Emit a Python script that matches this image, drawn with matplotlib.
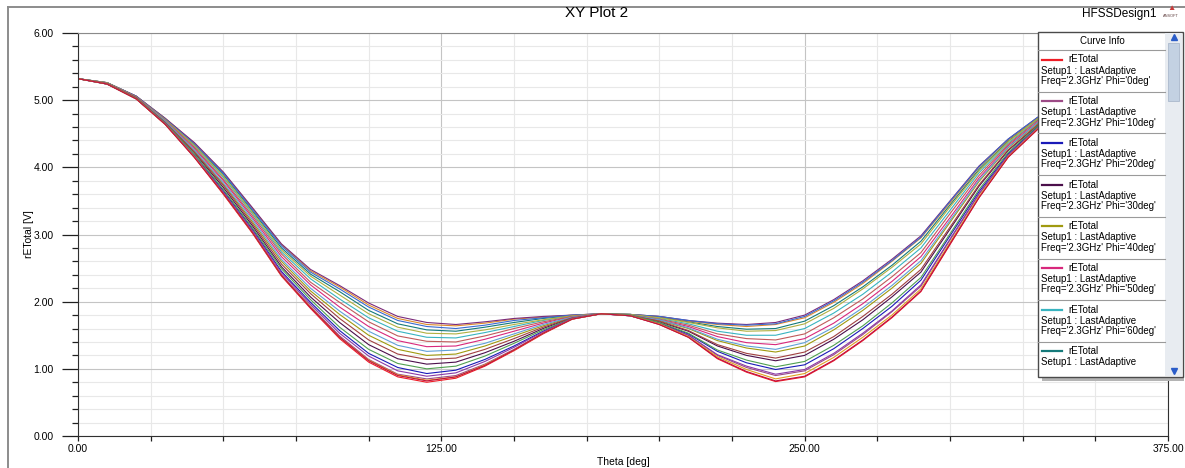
import numpy as np
import matplotlib
matplotlib.use("Agg")
import matplotlib.pyplot as plt
from matplotlib.patches import Rectangle

plt.rcParams['font.family'] = ['Liberation Sans', 'DejaVu Sans']

# theta sweep [deg] and one rETotal curve per phi cut
theta = list(range(0, 361, 10))
phi_deg = [0, 10, 20, 30, 40, 50, 60, 70, 80, 90, 100, 110, 120, 130, 140, 150, 160, 170, 180]

e_phi0 = [5.32, 5.24, 5.02, 4.64, 4.15, 3.60, 3.02, 2.38, 1.90, 1.45, 1.10, 0.88, 0.80, 0.86, 1.04, 1.27, 1.52, 1.74, 1.82,
          1.79, 1.66, 1.47, 1.15, 0.95, 0.81, 0.88, 1.12, 1.42, 1.76, 2.15, 2.85, 3.55, 4.15, 4.56, 4.95, 5.18, 5.32]
e_phi10 = [5.32, 5.24, 5.02, 4.64, 4.16, 3.62, 3.04, 2.40, 1.93, 1.49, 1.14, 0.92, 0.85, 0.90, 1.07, 1.29, 1.53, 1.74, 1.82,
           1.79, 1.67, 1.50, 1.20, 1.02, 0.90, 0.97, 1.21, 1.51, 1.85, 2.23, 2.92, 3.60, 4.18, 4.58, 4.96, 5.18, 5.32]
e_phi20 = [5.32, 5.24, 5.03, 4.65, 4.18, 3.65, 3.08, 2.45, 1.99, 1.57, 1.23, 1.02, 0.93, 0.98, 1.14, 1.34, 1.56, 1.75, 1.82,
           1.79, 1.68, 1.52, 1.26, 1.09, 0.99, 1.06, 1.30, 1.60, 1.93, 2.32, 2.98, 3.64, 4.20, 4.60, 4.96, 5.18, 5.32]
e_phi30 = [5.32, 5.25, 5.03, 4.67, 4.22, 3.70, 3.13, 2.52, 2.07, 1.69, 1.36, 1.15, 1.07, 1.10, 1.24, 1.41, 1.60, 1.76, 1.82,
           1.80, 1.70, 1.56, 1.34, 1.20, 1.12, 1.20, 1.44, 1.73, 2.07, 2.44, 3.08, 3.72, 4.25, 4.62, 4.97, 5.19, 5.32]
e_phi40 = [5.32, 5.25, 5.04, 4.68, 4.25, 3.75, 3.19, 2.60, 2.16, 1.81, 1.50, 1.29, 1.20, 1.22, 1.34, 1.49, 1.64, 1.77, 1.82,
           1.80, 1.72, 1.60, 1.42, 1.31, 1.25, 1.34, 1.58, 1.87, 2.20, 2.57, 3.18, 3.79, 4.29, 4.65, 4.98, 5.19, 5.32]
e_phi50 = [5.32, 5.25, 5.04, 4.69, 4.28, 3.80, 3.25, 2.67, 2.25, 1.92, 1.63, 1.42, 1.33, 1.34, 1.44, 1.56, 1.68, 1.78, 1.82,
           1.80, 1.73, 1.63, 1.48, 1.39, 1.36, 1.45, 1.68, 1.97, 2.30, 2.67, 3.25, 3.84, 4.32, 4.67, 4.98, 5.19, 5.32]
e_phi60 = [5.32, 5.26, 5.05, 4.71, 4.32, 3.85, 3.31, 2.74, 2.34, 2.04, 1.76, 1.56, 1.47, 1.46, 1.54, 1.63, 1.72, 1.79, 1.82,
           1.81, 1.75, 1.67, 1.56, 1.50, 1.50, 1.60, 1.83, 2.11, 2.44, 2.80, 3.36, 3.92, 4.36, 4.70, 4.99, 5.20, 5.32]
e_phi70 = [5.32, 5.26, 5.06, 4.72, 4.34, 3.89, 3.35, 2.80, 2.41, 2.15, 1.87, 1.67, 1.58, 1.56, 1.62, 1.69, 1.75, 1.79, 1.82,
           1.81, 1.77, 1.70, 1.63, 1.59, 1.60, 1.71, 1.94, 2.22, 2.54, 2.90, 3.44, 3.97, 4.39, 4.72, 5.00, 5.20, 5.32]
e_phi80 = [5.32, 5.26, 5.06, 4.73, 4.36, 3.92, 3.39, 2.85, 2.46, 2.22, 1.95, 1.75, 1.66, 1.64, 1.68, 1.74, 1.77, 1.80, 1.82,
           1.81, 1.78, 1.71, 1.66, 1.63, 1.66, 1.76, 1.99, 2.27, 2.60, 2.95, 3.47, 4.00, 4.41, 4.73, 5.00, 5.20, 5.32]
e_phi90 = [5.32, 5.26, 5.06, 4.73, 4.37, 3.93, 3.40, 2.86, 2.48, 2.24, 1.98, 1.78, 1.69, 1.66, 1.70, 1.75, 1.78, 1.80, 1.82,
           1.81, 1.78, 1.72, 1.68, 1.66, 1.69, 1.80, 2.03, 2.31, 2.63, 2.98, 3.50, 4.02, 4.42, 4.74, 5.00, 5.20, 5.32]
e_phi100 = [5.32, 5.26, 5.06, 4.72, 4.35, 3.91, 3.37, 2.83, 2.44, 2.19, 1.92, 1.72, 1.63, 1.60, 1.65, 1.72, 1.76, 1.80, 1.82,
            1.81, 1.78, 1.72, 1.67, 1.65, 1.67, 1.78, 2.01, 2.29, 2.61, 2.96, 3.49, 4.01, 4.42, 4.74, 5.00, 5.20, 5.32]
e_phi110 = [5.32, 5.26, 5.05, 4.71, 4.33, 3.87, 3.33, 2.77, 2.38, 2.10, 1.82, 1.62, 1.53, 1.52, 1.58, 1.66, 1.73, 1.79, 1.82,
            1.81, 1.76, 1.69, 1.61, 1.56, 1.57, 1.67, 1.90, 2.19, 2.51, 2.86, 3.41, 3.95, 4.38, 4.72, 4.99, 5.20, 5.32]
e_phi120 = [5.32, 5.25, 5.05, 4.70, 4.30, 3.82, 3.28, 2.71, 2.29, 1.99, 1.70, 1.49, 1.41, 1.40, 1.49, 1.60, 1.70, 1.78, 1.82,
            1.80, 1.74, 1.65, 1.52, 1.45, 1.43, 1.52, 1.76, 2.04, 2.37, 2.73, 3.31, 3.88, 4.34, 4.69, 4.99, 5.19, 5.32]
e_phi130 = [5.32, 5.25, 5.04, 4.69, 4.26, 3.77, 3.22, 2.63, 2.20, 1.86, 1.56, 1.35, 1.26, 1.28, 1.38, 1.52, 1.66, 1.77, 1.82,
            1.80, 1.73, 1.61, 1.44, 1.34, 1.29, 1.39, 1.62, 1.91, 2.24, 2.61, 3.21, 3.81, 4.30, 4.66, 4.98, 5.19, 5.32]
e_phi140 = [5.32, 5.25, 5.04, 4.67, 4.23, 3.73, 3.16, 2.56, 2.12, 1.75, 1.43, 1.22, 1.14, 1.16, 1.29, 1.45, 1.62, 1.76, 1.82,
            1.80, 1.71, 1.57, 1.36, 1.23, 1.16, 1.25, 1.48, 1.78, 2.11, 2.48, 3.11, 3.74, 4.26, 4.63, 4.97, 5.19, 5.32]
e_phi150 = [5.32, 5.24, 5.03, 4.66, 4.20, 3.67, 3.10, 2.49, 2.03, 1.62, 1.29, 1.08, 1.00, 1.04, 1.19, 1.38, 1.58, 1.75, 1.82,
            1.80, 1.69, 1.53, 1.28, 1.13, 1.03, 1.11, 1.35, 1.64, 1.98, 2.36, 3.01, 3.67, 4.22, 4.61, 4.96, 5.19, 5.32]
e_phi160 = [5.32, 5.24, 5.02, 4.65, 4.17, 3.63, 3.06, 2.43, 1.96, 1.53, 1.19, 0.97, 0.89, 0.94, 1.11, 1.32, 1.55, 1.75, 1.82,
            1.79, 1.67, 1.50, 1.21, 1.04, 0.92, 0.99, 1.23, 1.53, 1.86, 2.25, 2.93, 3.61, 4.18, 4.58, 4.96, 5.18, 5.32]
e_phi170 = [5.32, 5.24, 5.02, 4.64, 4.16, 3.61, 3.03, 2.39, 1.92, 1.47, 1.13, 0.91, 0.83, 0.88, 1.06, 1.28, 1.53, 1.74, 1.82,
            1.79, 1.67, 1.48, 1.18, 0.99, 0.85, 0.93, 1.17, 1.47, 1.80, 2.19, 2.88, 3.57, 4.16, 4.57, 4.95, 5.18, 5.32]
e_phi180 = [5.32, 5.24, 5.02, 4.64, 4.15, 3.61, 3.03, 2.39, 1.91, 1.47, 1.12, 0.90, 0.82, 0.88, 1.05, 1.28, 1.53, 1.74, 1.82,
            1.79, 1.66, 1.47, 1.16, 0.96, 0.82, 0.89, 1.13, 1.43, 1.77, 2.16, 2.86, 3.55, 4.15, 4.56, 4.95, 5.18, 5.32]

curves = [e_phi0, e_phi10, e_phi20, e_phi30, e_phi40, e_phi50, e_phi60, e_phi70, e_phi80, e_phi90,
          e_phi100, e_phi110, e_phi120, e_phi130, e_phi140, e_phi150, e_phi160, e_phi170, e_phi180]

colors = ['#ee1c25', '#9c4a86', '#1a1ab8', '#4b0f4b', '#a09a10', '#d8287c', '#38b4c0', '#157a7a',
          '#e08a2a', '#7a2a7a', '#3a6ad0', '#b0b040', '#c05a5a', '#60a0d8', '#a04040', '#50a050',
          '#8a3aa8', '#e0a020', '#c01040']

x_ticks = [0, 125, 250, 375]
y_ticks = [0, 1, 2, 3, 4, 5, 6]

W, H = 1185, 468
fig = plt.figure(figsize=(W / 100, H / 100), dpi=100)
fig.patch.set_facecolor('white')

ax = fig.add_axes([78 / W, 1 - 436 / H, (1168 - 78) / W, (436 - 33) / H])
for vals, col in zip(curves, colors):
    ax.plot(theta, vals, color=col, lw=0.8)

ax.set_xlim(0, 375)
ax.set_ylim(0, 6)
ax.set_xticks(x_ticks)
ax.set_xticks(np.arange(0, 376, 25), minor=True)
ax.set_yticks(y_ticks)
ax.set_yticks(np.arange(0, 6.01, 0.2), minor=True)
ax.set_xticklabels([f"{v:.2f}" for v in x_ticks], fontsize=7.5)
ax.set_yticklabels([f"{v:.2f}" for v in y_ticks], fontsize=7.5)
ax.grid(which='major', color='#c4c4c4', lw=0.8)
ax.grid(which='minor', color='#e8e8e8', lw=0.8)
ax.set_axisbelow(True)
ax.tick_params(axis='y', which='major', direction='out', length=11.5, width=0.9, pad=6, color='#202020')
ax.tick_params(axis='y', which='minor', direction='out', length=4.5, width=0.9, color='#202020')
ax.tick_params(axis='x', which='both', direction='out', length=3.5, width=0.9, pad=2, color='#202020')
for side in ['left', 'bottom', 'right']:
    ax.spines[side].set_color('#303030')
ax.spines['top'].set_color('#8a8a8a')

ax.set_xlabel('Theta [deg]', fontsize=7.5)
ax.set_ylabel('rETotal [V]', fontsize=7.5)
ax.xaxis.set_label_coords(0.5, -0.052)
ax.yaxis.set_label_coords(-0.04, 0.5)

# overlay in pixel coordinates for frame, title and the curve-info box
ov = fig.add_axes([0, 0, 1, 1], facecolor='none')
ov.set_xlim(0, W)
ov.set_ylim(H, 0)
ov.axis('off')

ov.plot([8, 8], [7, H], color='#8c8c8c', lw=1.4)
ov.plot([8, W], [7, 7], color='#8c8c8c', lw=1.4)
ov.text(597, 13, 'XY Plot 2', ha='center', va='center', fontsize=11)
ov.text(1082, 14, 'HFSSDesign1', ha='left', va='center', fontsize=8.5)
ov.text(1171, 9, '\u25b2', ha='center', va='center', fontsize=6, color='#c83a3a')
ov.text(1171, 16, 'ANSOFT', ha='center', va='center', fontsize=2.8, color='#604040')

# curve info box
ov.add_patch(Rectangle((1042, 36), 142, 345, fc='#b4b4b4', ec='none', zorder=2))
ov.add_patch(Rectangle((1038, 32), 145, 345, fc='white', ec='#4a4a4a', lw=1, zorder=3))
ov.add_patch(Rectangle((1165, 33), 17, 343, fc='#e8ecf1', ec='none', zorder=4))
ov.add_patch(Rectangle((1168, 43), 11, 58, fc='#c3d1e2', ec='#aab8cc', lw=0.6, zorder=5))
ov.plot([1173.5], [37], marker='^', ms=4, color='#2a5cc8', zorder=6)
ov.plot([1173.5], [371], marker='v', ms=4, color='#2a5cc8', zorder=6)
ov.text(1102, 41, 'Curve Info', ha='center', va='center', fontsize=7, zorder=6)
ov.plot([1038, 1165], [50, 50], color='#9a9a9a', lw=0.8, zorder=6)

step = 41.7
for k, (phi, col) in enumerate(zip(phi_deg[:8], colors[:8])):
    y0 = 50 + step * k
    if k > 0:
        ov.plot([1038, 1165], [y0, y0], color='#9a9a9a', lw=0.8, zorder=6)
    ov.plot([1042, 1062], [y0 + 9.5, y0 + 9.5], color=col, lw=1.6, zorder=6)
    ov.text(1068, y0 + 9.5, 'rETotal', ha='left', va='center', fontsize=7, zorder=6)
    ov.text(1041, y0 + 20.5, 'Setup1 : LastAdaptive', ha='left', va='center', fontsize=7, zorder=6)
    if y0 + 31 < 368:
        ov.text(1041, y0 + 31, f"Freq='2.3GHz' Phi='{phi}deg'", ha='left', va='center',
                fontsize=7, zorder=6)

fig.savefig('out.png', dpi=100)
